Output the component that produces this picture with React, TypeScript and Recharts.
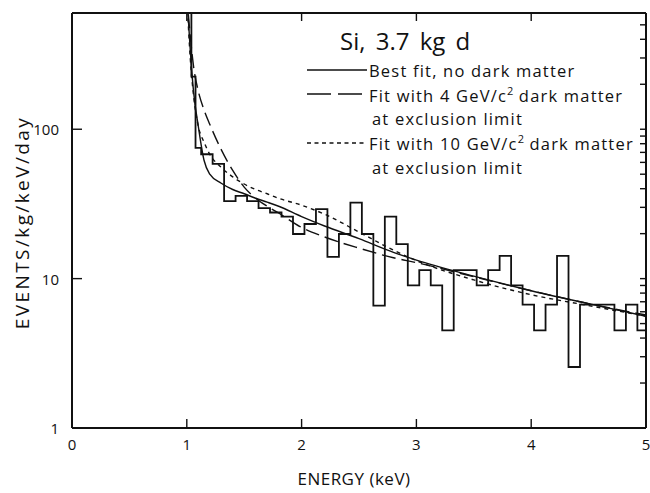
import { LineChart, Line, XAxis, YAxis, Legend } from 'recharts'

// histogram: bin start energies (keV) and counts (events/kg/keV/day)
const BIN_START = [
  1.0, 1.04, 1.076, 1.125, 1.225, 1.325, 1.425, 1.525, 1.625, 1.725, 1.825, 1.925,
  2.025, 2.125, 2.225, 2.325, 2.425, 2.525, 2.625, 2.725, 2.825, 2.925,
  3.025, 3.125, 3.225, 3.325, 3.425, 3.525, 3.625, 3.725, 3.825, 3.925,
  4.025, 4.125, 4.225, 4.325, 4.425, 4.525, 4.625, 4.725, 4.825, 4.925, 5.0,
]
const BIN_RATE = [
  650, 225, 75, 68, 58.6, 33, 35.8, 33, 29.6, 27.7, 26, 19.9,
  23.2, 29.2, 14.0, 19.9, 32.3, 19.9, 6.6, 26.0, 17.0, 9.0,
  11.4, 9.0, 4.5, 11.4, 11.4, 9.0, 11.4, 14.2, 9.0, 6.7,
  4.5, 6.7, 14.2, 2.56, 6.7, 6.7, 6.7, 4.5, 6.7, 4.5, 4.5,
]

// fitted curves
const FIT_E     = [1.0, 1.03, 1.06, 1.1, 1.15, 1.2, 1.3, 1.4, 1.5, 1.6, 1.7, 1.8, 2.0, 2.2, 2.5, 2.8, 3.0, 3.5, 4.0, 4.5, 5.0]
const FIT_NO_DM = [800, 340, 175, 105, 62, 50, 43.5, 39.5, 37, 34.5, 32.5, 30.5, 26, 22.5, 18.5, 15, 13.3, 10.4, 8.3, 6.8, 5.6]
const FIT_4GEV  = [800, 420, 260, 180, 135, 108, 73, 53, 41, 34.5, 30.5, 27.5, 22, 19, 16, 13.8, 12.8, 10.3, 8.3, 6.8, 5.7]
const FIT_10GEV = [800, 300, 165, 105, 82, 68, 55.5, 48, 43, 39.5, 37, 34.5, 31, 27, 20.5, 15.5, 13.2, 9.8, 7.8, 6.6, 5.6]

const X_TICKS = [0, 1, 2, 3, 4, 5]
const X_TOP_TICKS = [1, 2, 3, 4]
const Y_TICKS = [1, 2, 3, 4, 5, 6, 7, 8, 9, 10, 20, 30, 40, 50, 60, 70, 80, 90, 100, 200, 300, 400, 500]
const Y_MAJOR = [1, 10, 100]
const X_DOMAIN = [0, 5]
const Y_DOMAIN = [1, 600]

const TITLE = 'Si, 3.7 kg d'
const SUP = { fontSize: 11, letterSpacing: 0 }
const LEGEND_ROWS = [
  { dash: undefined, text: <>Best fit, no dark matter</> },
  { dash: '24 7', text: <>Fit with 4 GeV/c<sup style={SUP}>2</sup> dark matter</> },
  { dash: 'none', text: <>at exclusion limit</> },
  { dash: '4 3.5', text: <>Fit with 10 GeV/c<sup style={SUP}>2</sup> dark matter</> },
  { dash: 'none', text: <>at exclusion limit</> },
]

const INK = '#111'
const FONT = '"Open Sans", "DejaVu Sans", sans-serif'
const AXIS_LINE = { stroke: INK, strokeWidth: 2 }
const TICK_LINE = { stroke: INK, strokeWidth: 1.4 }

const histData = BIN_START.map((e, i) => ({ e, v: BIN_RATE[i] }))
const noDm = FIT_E.map((e, i) => ({ e, v: FIT_NO_DM[i] }))
const dm4 = FIT_E.map((e, i) => ({ e, v: FIT_4GEV[i] }))
const dm10 = FIT_E.map((e, i) => ({ e, v: FIT_10GEV[i] }))

// tick={false} would also drop the tick lines, so use an empty label instead
const NoLabel = () => <g />

const BottomTick = ({ x, y, payload }: any) => (
  <text x={x} y={y} textAnchor="middle" dominantBaseline="central"
    fontFamily={FONT} fontSize={15} fill={INK}>{payload.value}</text>
)

const LeftTick = ({ x, y, payload }: any) => (
  <text x={x} y={y} textAnchor="end" dominantBaseline="central"
    fontFamily={FONT} fontSize={15} fill={INK}>{payload.value}</text>
)

const YTitle = ({ viewBox }: any) => {
  const cx = viewBox.x + 22
  const cy = viewBox.y + viewBox.height / 2 + 2
  return (
    <text x={cx} y={cy} transform={`rotate(-90 ${cx} ${cy})`} textAnchor="middle" dominantBaseline="central"
      fontFamily={FONT} fontSize={19} letterSpacing={2.4} fill={INK}>EVENTS/kg/keV/day</text>
  )
}

const XTitle = ({ viewBox }: any) => (
  <text x={viewBox.x + viewBox.width / 2 - 5} y={viewBox.y + 50} textAnchor="middle" dominantBaseline="central"
    fontFamily={FONT} fontSize={17} letterSpacing={0.5} fill={INK}>ENERGY (keV)</text>
)

const LegendBox = () => (
  <div style={{ position: 'relative', width: 350, height: 175, fontFamily: FONT, color: INK }}>
    <div style={{ position: 'absolute', left: 40, top: 10, fontSize: 24, lineHeight: '30px', whiteSpace: 'nowrap', wordSpacing: 4 }}>
      {TITLE}
    </div>
    {LEGEND_ROWS.map((r, i) => (
      <div key={i} style={{ position: 'absolute', left: 7, top: 42 + i * 24.4, height: 24, display: 'flex', alignItems: 'center', whiteSpace: 'nowrap' }}>
        <svg width={62} height={24} style={{ flex: 'none' }}>
          {r.dash !== 'none' && (
            <line x1={0} x2={60} y1={12} y2={12} stroke={INK} strokeWidth={1.4} strokeDasharray={r.dash} />
          )}
        </svg>
        <span style={{ fontSize: 16.5, letterSpacing: 1.2, marginLeft: r.dash === 'none' ? 3 : 0 }}>{r.text}</span>
      </div>
    ))}
  </div>
)

export default function App() {
  return (
    <div style={{ position: 'absolute', left: 0, top: 0, background: '#fff' }}>
      <LineChart width={650} height={493} margin={{ top: 12, right: 3, left: 0, bottom: 0 }}>
        <XAxis dataKey="e" type="number" domain={X_DOMAIN} allowDataOverflow ticks={X_TICKS} interval={0}
          height={65} tickSize={-9} tickMargin={25} tickLine={TICK_LINE} tick={<BottomTick />}
          axisLine={AXIS_LINE} label={<XTitle />} />
        <XAxis xAxisId="top" orientation="top" dataKey="e" type="number" domain={X_DOMAIN} allowDataOverflow
          ticks={X_TOP_TICKS} interval={0} height={1} tickSize={-8} tickLine={TICK_LINE} tick={<NoLabel />}
          axisLine={AXIS_LINE} />
        {/* minor ticks on the left, drawn on the same axis line */}
        <YAxis yAxisId="minor" scale="log" type="number" domain={Y_DOMAIN} allowDataOverflow ticks={Y_TICKS}
          interval={0} width={0} tickSize={-6} tickLine={TICK_LINE} tick={<NoLabel />} axisLine={false} />
        <YAxis scale="log" type="number" domain={Y_DOMAIN} allowDataOverflow ticks={Y_MAJOR} interval={0}
          width={72} tickSize={-10} tickMargin={23} tickLine={TICK_LINE} tick={<LeftTick />}
          axisLine={AXIS_LINE} label={<YTitle />} />
        <YAxis yAxisId="right" orientation="right" scale="log" type="number" domain={Y_DOMAIN} allowDataOverflow
          ticks={Y_TICKS} interval={0} width={1} tickSize={-6} tickLine={TICK_LINE} tick={<NoLabel />}
          axisLine={AXIS_LINE} />
        <Legend layout="vertical" align="center" verticalAlign="middle" content={<LegendBox />}
          wrapperStyle={{ left: 300, top: 16, width: 350, height: 175 }} />
        <Line data={histData} dataKey="v" type="stepAfter" stroke={INK} strokeWidth={1.8} dot={false}
          isAnimationActive={false} />
        <Line data={noDm} dataKey="v" type="monotone" stroke={INK} strokeWidth={1.4} dot={false}
          isAnimationActive={false} />
        <Line data={dm4} yAxisId="minor" dataKey="v" type="monotone" stroke={INK} strokeWidth={1.4}
          strokeDasharray="14 6" dot={false} isAnimationActive={false} />
        <Line data={dm10} xAxisId="top" yAxisId="right" dataKey="v" type="monotone" stroke={INK} strokeWidth={1.4}
          strokeDasharray="4 4" dot={false} isAnimationActive={false} />
      </LineChart>
    </div>
  )
}
